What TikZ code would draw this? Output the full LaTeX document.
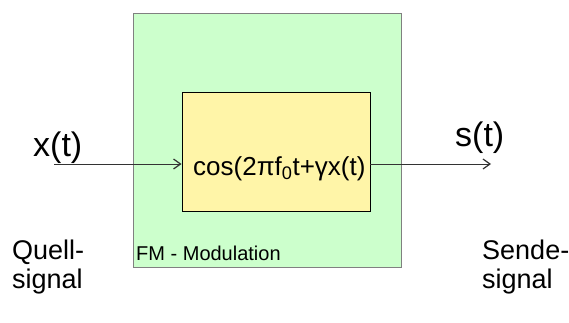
\documentclass[tikz,border=0pt]{standalone}
\usepackage{fontspec}
\setmainfont{Liberation Sans}
\usetikzlibrary{arrows.meta,positioning}
\definecolor{fmgreen}{RGB}{204,255,204}
\definecolor{cosyellow}{RGB}{255,245,168}
\begin{document}
\begin{tikzpicture}[x=1pt,y=-1pt,
  blockbox/.style={rectangle, inner sep=0pt, line width=0.9pt},
  sigline/.style={line width=0.8pt, black!80, -{Straight Barb[length=7pt, width=10pt, line width=1.2pt]}},
  biglabel/.style={anchor=base west, inner sep=0pt, font=\fontsize{34}{38}\selectfont},
  sidelabel/.style={anchor=base west, inner sep=0pt, align=left, font=\fontsize{27}{29}\selectfont}]
  % page size of the reference
  \useasboundingbox (0,0) rectangle (569,322);

  % FM block with the cosine inside
  \node[blockbox, draw=black!50, fill=fmgreen, minimum width=268pt, minimum height=254pt] (fm) at (267,140) {};
  \node[blockbox, draw=black, fill=cosyellow, minimum width=188pt, minimum height=119pt] (cosbox) at (276,151.5) {};
  \node[anchor=base west, inner sep=0pt, font=\fontsize{26}{30}\selectfont] (costext) at (193,175) {cos(2πf\textsubscript{0}t+γx(t)};
  \node[anchor=base west, inner sep=0pt, font=\fontsize{20}{24}\selectfont] (fmlabel) at (136,260) {FM - Modulation};

  % signal in and out
  \coordinate (in) at (54,164);
  \coordinate (out) at (491,164);
  \draw[sigline] (in) -- (in -| cosbox.west);
  \draw[sigline] (out -| cosbox.east) -- (out);

  % labels
  \node[biglabel] (xt) at (33,156) {x(t)};
  \node[biglabel] (st) at (455,146) {s(t)};
  \node[sidelabel] (quell) at (12,288) {Quell-\\signal};
  \node[sidelabel] (sende) at (482,288) {Sende-\\signal};
\end{tikzpicture}
\end{document}
